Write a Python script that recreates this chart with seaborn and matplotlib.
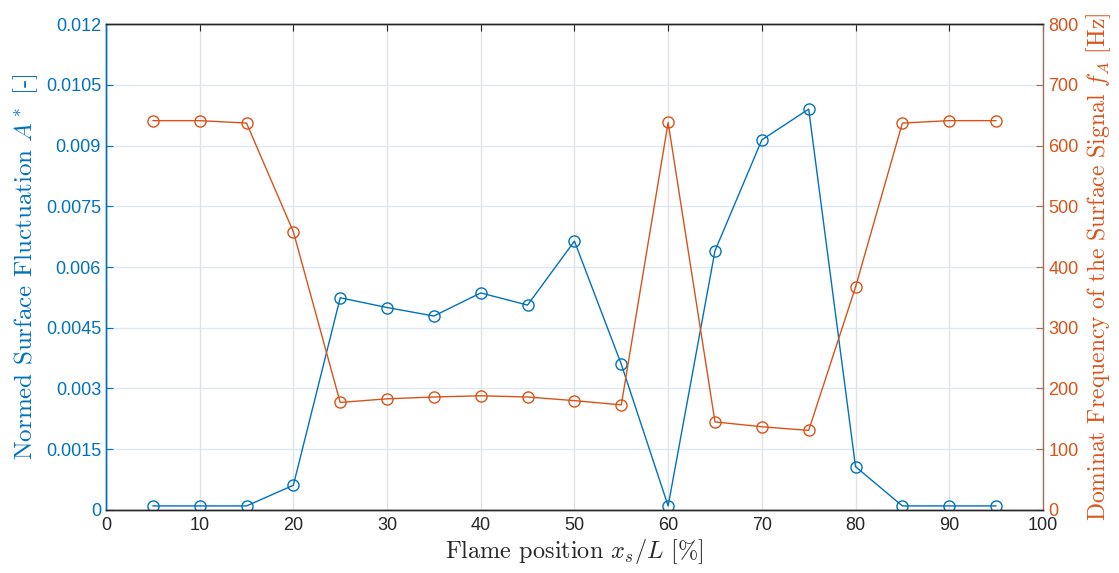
import matplotlib
matplotlib.use("Agg")
import matplotlib.pyplot as plt
import seaborn as sns
import pandas as pd

# flame position in percent of L
positions = [5, 10, 15, 20, 25, 30, 35, 40, 45, 50, 55, 60, 65, 70, 75, 80, 85, 90, 95]
# normed surface fluctuation A*
amplitude = [0.0001, 0.0001, 0.0001, 0.00061, 0.00524, 0.0050, 0.00479, 0.00536, 0.00506,
             0.00664, 0.0036, 0.0001, 0.0064, 0.00914, 0.0099, 0.00107, 0.0001, 0.0001, 0.0001]
# dominant frequency f_A in Hz
frequency = [641, 641, 637, 458, 177, 183, 186, 188, 186, 180, 173, 638, 145, 137, 131,
             367, 637, 641, 641]

left_ticks = [0, 0.0015, 0.003, 0.0045, 0.006, 0.0075, 0.009, 0.0105, 0.012]
left_tick_labels = ["0", "0.0015", "0.003", "0.0045", "0.006", "0.0075", "0.009", "0.0105", "0.012"]
right_ticks = [0, 100, 200, 300, 400, 500, 600, 700, 800]
x_ticks = list(range(0, 101, 10))

blue = "#0072BD"
orange = "#D95319"

df = pd.DataFrame({"x": positions, "A": amplitude, "f": frequency})

sns.set_style("white")
plt.rcParams["font.family"] = ["Liberation Sans", "DejaVu Sans"]
plt.rcParams["mathtext.fontset"] = "cm"

fig = plt.figure(figsize=(11.19, 5.73), dpi=100)
ax = fig.add_axes([0.0947, 0.11, 0.8373, 0.848])
ax2 = ax.twinx()

sns.lineplot(data=df, x="x", y="A", ax=ax, color=blue, lw=1, marker="o",
             markersize=8, markerfacecolor="none", markeredgecolor=blue, markeredgewidth=1)
sns.lineplot(data=df, x="x", y="f", ax=ax2, color=orange, lw=1, marker="o",
             markersize=8, markerfacecolor="none", markeredgecolor=orange, markeredgewidth=1)

ax.set_xlim(0, 100)
ax.set_ylim(0, 0.012)
ax2.set_ylim(0, 800)
ax.set_xticks(x_ticks)
ax.set_yticks(left_ticks)
ax.set_yticklabels(left_tick_labels)
ax2.set_yticks(right_ticks)

ax.grid(True, axis="x", color="#e2e2e2", lw=1)
ax.grid(True, axis="y", color="#dde8f3", lw=1)
ax.set_axisbelow(True)

ax.tick_params(axis="x", direction="in", length=5, labelsize=13, colors="#262626", top=True, pad=5)
ax.tick_params(axis="y", direction="in", length=5, labelsize=13, colors=blue, labelcolor=blue)
ax2.tick_params(axis="y", direction="in", length=5, labelsize=13, colors="#a0705a",
                labelcolor=orange, pad=4)

for sp in ["top", "bottom"]:
    ax.spines[sp].set_color("#262626")
    ax2.spines[sp].set_color("#262626")
ax.spines["left"].set_color(blue)
ax2.spines["left"].set_color(blue)
ax2.spines["right"].set_color("#a0705a")
ax.spines["right"].set_visible(False)
for a in (ax, ax2):
    for sp in a.spines.values():
        sp.set_linewidth(1)

ax.set_xlabel(r"Flame position $x_s/L$ [%]", fontsize=17.5, family="cmr10", color="#262626",
              labelpad=2)
ax.set_ylabel(r"Normed Surface Fluctuation $A^*$ [-]", fontsize=18, family="cmr10", color=blue,
              labelpad=4)
ax2.set_ylabel(r"Dominat Frequency of the Surface Signal $f_A$ [Hz]", fontsize=17,
               family="cmr10", color=orange, labelpad=4)

plt.savefig("out.png", dpi=100)
